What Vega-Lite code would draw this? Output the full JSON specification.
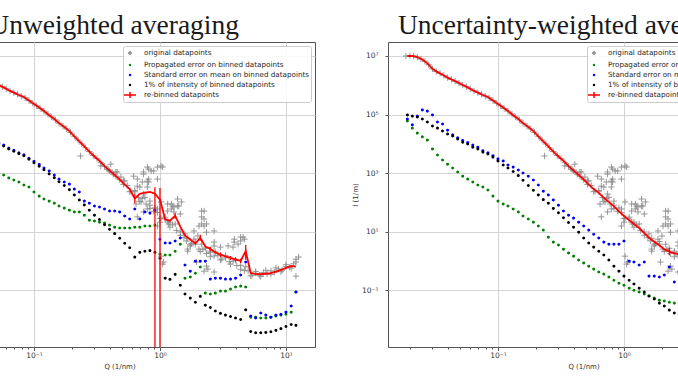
{
"$schema": "https://vega.github.io/schema/vega-lite/v6.json",
"background": "white",
"padding": {"left": -77, "top": 11, "right": -100, "bottom": 4},
"config": {
 "view": {"stroke": "#555555", "strokeWidth": 1},
 "axis": {"labelFont": "DejaVu Sans", "labelFontSize": 7.5, "labelColor": "#333333", "titleFont": "DejaVu Sans", "titleFontSize": 7, "titleFontWeight": "normal", "titleColor": "#333333", "gridColor": "#d4d4d4", "gridWidth": 1, "tickColor": "#555555", "domain": false, "labelOverlap": false, "labelFlush": false},
 "title": {"font": "Liberation Serif", "fontSize": 27.5, "fontWeight": "normal", "color": "#1a1a1a", "offset": 3, "frame": "group"},
 "legend": {"title": null, "orient": "top-right", "offset": 4, "symbolSize": 100, "rowPadding": 0, "padding": 1, "labelOffset": 8, "labelFont": "DejaVu Sans", "labelFontSize": 7.2, "labelColor": "#262626", "labelLimit": 400, "strokeColor": "#cccccc", "fillColor": "rgba(255,255,255,0.85)", "cornerRadius": 2}
},
"datasets": {
 "orig": [
  {"Q":1.86e-2,"orig":1.00e7},{"Q":2.00e-2,"orig":1.02e7},{"Q":2.14e-2,"orig":1.00e7},{"Q":2.29e-2,"orig":9.12e6},{"Q":2.45e-2,"orig":7.94e6},{"Q":2.63e-2,"orig":6.61e6},{"Q":2.82e-2,"orig":5.01e6},{"Q":3.02e-2,"orig":3.63e6},{"Q":3.24e-2,"orig":2.95e6},{"Q":3.47e-2,"orig":2.57e6},{"Q":3.72e-2,"orig":2.19e6},{"Q":3.98e-2,"orig":1.82e6},{"Q":4.27e-2,"orig":1.58e6},{"Q":4.57e-2,"orig":1.38e6},{"Q":4.90e-2,"orig":1.20e6},{"Q":5.25e-2,"orig":1.02e6},{"Q":5.62e-2,"orig":8.91e5},{"Q":6.03e-2,"orig":7.59e5},{"Q":6.46e-2,"orig":6.46e5},{"Q":6.92e-2,"orig":5.62e5},{"Q":7.41e-2,"orig":4.90e5},{"Q":7.94e-2,"orig":4.27e5},{"Q":8.51e-2,"orig":3.72e5},{"Q":9.12e-2,"orig":3.02e5},{"Q":9.77e-2,"orig":2.45e5},{"Q":0.105,"orig":2.00e5},{"Q":0.112,"orig":1.62e5},{"Q":0.120,"orig":1.32e5},{"Q":0.129,"orig":1.05e5},{"Q":0.138,"orig":8.32e4},{"Q":0.148,"orig":6.61e4},{"Q":0.158,"orig":5.13e4},{"Q":0.170,"orig":4.07e4},{"Q":0.182,"orig":3.24e4},{"Q":0.195,"orig":2.51e4},{"Q":0.209,"orig":1.82e4},{"Q":0.224,"orig":1.35e4},{"Q":0.240,"orig":1.00e4},{"Q":0.257,"orig":7.41e3},{"Q":0.275,"orig":5.50e3},{"Q":0.295,"orig":4.07e3},{"Q":0.316,"orig":3.16e3},{"Q":0.339,"orig":2.34e3},{"Q":0.363,"orig":1.74e3},{"Q":0.389,"orig":1.35e3},{"Q":0.417,"orig":1.05e3},{"Q":0.447,"orig":794},{"Q":0.479,"orig":603},{"Q":0.513,"orig":417},{"Q":0.550,"orig":380},{"Q":0.589,"orig":245},{"Q":0.631,"orig":234},{"Q":0.676,"orig":148},{"Q":0.724,"orig":138},{"Q":0.776,"orig":89.1},{"Q":0.832,"orig":81.3},{"Q":0.891,"orig":50.1},{"Q":0.955,"orig":45.7},{"Q":1.02,"orig":29.5},{"Q":1.10,"orig":27.5},{"Q":1.17,"orig":18.6},{"Q":1.26,"orig":17.4},{"Q":1.35,"orig":11.2},{"Q":1.45,"orig":10.0},{"Q":1.55,"orig":6.31},{"Q":1.66,"orig":6.03},{"Q":1.78,"orig":3.98},{"Q":1.91,"orig":3.80},{"Q":2.04,"orig":2.57},{"Q":2.19,"orig":2.51},{"Q":2.34,"orig":1.82},{"Q":2.51,"orig":1.95},{"Q":2.69,"orig":1.51},{"Q":2.88,"orig":1.58},{"Q":3.09,"orig":1.17},{"Q":3.31,"orig":1.29},{"Q":3.55,"orig":0.955},{"Q":3.80,"orig":1.00},{"Q":4.07,"orig":0.708},{"Q":4.37,"orig":0.724},{"Q":4.68,"orig":0.479},{"Q":5.01,"orig":0.468},{"Q":5.37,"orig":0.331},{"Q":5.75,"orig":0.389},{"Q":6.17,"orig":0.331},{"Q":6.61,"orig":0.407},{"Q":7.08,"orig":0.363},{"Q":7.59,"orig":0.468},{"Q":8.13,"orig":0.417},{"Q":8.71,"orig":0.537},{"Q":9.33,"orig":0.490},{"Q":10.0,"orig":0.661},{"Q":10.7,"orig":0.617},{"Q":11.5,"orig":0.813},
  {"Q":0.525,"orig":550},{"Q":0.575,"orig":234},{"Q":0.631,"orig":257},{"Q":0.692,"orig":110},{"Q":0.759,"orig":151},{"Q":0.832,"orig":63.1},{"Q":0.912,"orig":66.1},{"Q":1.00,"orig":28.2},{"Q":1.10,"orig":31.6},{"Q":1.20,"orig":14.5},{"Q":1.32,"orig":18.6},{"Q":1.45,"orig":7.59},{"Q":1.58,"orig":8.51},{"Q":1.74,"orig":3.63},{"Q":1.91,"orig":4.68},{"Q":2.09,"orig":2.14},{"Q":2.29,"orig":2.75},{"Q":2.51,"orig":1.41},{"Q":2.75,"orig":2.09},{"Q":3.02,"orig":1.10},{"Q":3.31,"orig":1.58},{"Q":3.63,"orig":0.794},{"Q":3.98,"orig":1.07},{"Q":4.37,"orig":0.525},{"Q":4.79,"orig":0.646},{"Q":5.25,"orig":0.316},{"Q":5.75,"orig":0.447},{"Q":6.31,"orig":0.302},{"Q":6.92,"orig":0.490},{"Q":7.59,"orig":0.355},{"Q":8.32,"orig":0.589},{"Q":9.12,"orig":0.437},{"Q":10.0,"orig":0.759},{"Q":11.0,"orig":0.575},{"Q":12.0,"orig":0.933},
  {"Q":0.234,"orig":3.89e3},{"Q":0.339,"orig":1.78e3},{"Q":0.380,"orig":1.38e3},{"Q":0.407,"orig":2.04e3},{"Q":0.398,"orig":1.20e3},{"Q":0.427,"orig":933},{"Q":0.447,"orig":1.10e3},{"Q":0.457,"orig":1.10e3},{"Q":0.490,"orig":741},{"Q":0.513,"orig":537},{"Q":0.617,"orig":794},{"Q":0.661,"orig":631},{"Q":0.661,"orig":363},{"Q":0.692,"orig":339},{"Q":0.724,"orig":501},{"Q":0.741,"orig":933},{"Q":0.741,"orig":1.10e3},{"Q":0.741,"orig":195},{"Q":0.794,"orig":1.62e3},{"Q":0.794,"orig":339},{"Q":0.794,"orig":537},{"Q":0.813,"orig":1.38e3},{"Q":0.813,"orig":631},{"Q":0.813,"orig":501},{"Q":0.851,"orig":1.20e3},{"Q":0.891,"orig":1.20e3},{"Q":0.955,"orig":1.62e3},{"Q":1.02,"orig":1.78e3},{"Q":1.05,"orig":1.62e3},{"Q":0.955,"orig":631},{"Q":0.646,"orig":89.1},{"Q":0.708,"orig":105},{"Q":0.741,"orig":47.9},{"Q":0.794,"orig":60.3},{"Q":0.955,"orig":60.3},{"Q":1.02,"orig":105},{"Q":1.15,"orig":51.3},{"Q":1.23,"orig":89.1},{"Q":1.23,"orig":60.3},{"Q":1.29,"orig":70.8},{"Q":1.38,"orig":132},{"Q":1.41,"orig":75.9},{"Q":1.48,"orig":105},{"Q":1.15,"orig":89.1},{"Q":1.26,"orig":75.9},{"Q":1.38,"orig":75.9},{"Q":1.29,"orig":47.9},{"Q":1.45,"orig":40.7},{"Q":1.00,"orig":21.4},{"Q":1.20,"orig":21.4},{"Q":1.15,"orig":21.4},{"Q":0.955,"orig":15.8},{"Q":0.832,"orig":112},{"Q":0.661,"orig":32.4},{"Q":2.14,"orig":51.3},{"Q":2.14,"orig":18.6},{"Q":2.24,"orig":27.5},{"Q":2.24,"orig":51.3},{"Q":2.14,"orig":32.4},{"Q":2.04,"orig":15.8},{"Q":2.34,"orig":18.6},{"Q":2.24,"orig":15.8},{"Q":2.34,"orig":9.77},{"Q":2.69,"orig":10.7},{"Q":2.69,"orig":4.47},{"Q":1.86,"orig":10.7},{"Q":1.86,"orig":5.62},{"Q":1.62,"orig":4.90},{"Q":1.74,"orig":3.31},{"Q":1.66,"orig":2.57},{"Q":1.66,"orig":2.19},{"Q":2.00,"orig":7.24},{"Q":2.14,"orig":3.80},{"Q":2.69,"orig":3.31},{"Q":3.47,"orig":3.31},{"Q":3.02,"orig":3.02},{"Q":3.80,"orig":3.02},{"Q":4.17,"orig":3.80},{"Q":3.89,"orig":5.62},{"Q":4.37,"orig":6.61},{"Q":4.37,"orig":4.90},{"Q":4.57,"orig":6.61},{"Q":4.68,"orig":5.62},{"Q":3.89,"orig":4.47},{"Q":1.02,"orig":1.48},{"Q":1.05,"orig":0.794},{"Q":1.07,"orig":0.933},{"Q":2.34,"orig":0.676},{"Q":2.24,"orig":0.457},{"Q":2.40,"orig":0.537},{"Q":2.69,"orig":0.427},{"Q":1.95,"orig":0.933},{"Q":2.51,"orig":2.19},{"Q":12.0,"orig":1.17},{"Q":12.0,"orig":0.309},{"Q":12.6,"orig":1.38}
 ],
 "unw": [
  {"Q":5.25e-2,"rebin":1.02e6,"prop":1.00e3,"sem":1.10e4,"pct":1.02e4},
  {"Q":5.75e-2,"rebin":8.51e5,"prop":871,"sem":9.12e3,"pct":8.51e3},
  {"Q":6.31e-2,"rebin":6.76e5,"prop":692,"sem":7.24e3,"pct":6.76e3},
  {"Q":6.92e-2,"rebin":5.62e5,"prop":589,"sem":6.03e3,"pct":5.62e3},
  {"Q":7.59e-2,"rebin":4.68e5,"prop":501,"sem":5.01e3,"pct":4.68e3},
  {"Q":8.32e-2,"rebin":3.98e5,"prop":398,"sem":4.27e3,"pct":3.98e3},
  {"Q":9.12e-2,"rebin":3.02e5,"prop":339,"sem":3.24e3,"pct":3.02e3},
  {"Q":0.100,"rebin":2.29e5,"prop":229,"sem":2.57e3,"pct":2.29e3},
  {"Q":0.110,"rebin":1.74e5,"prop":166,"sem":2.00e3,"pct":1.74e3},
  {"Q":0.120,"rebin":1.32e5,"prop":132,"sem":1.51e3,"pct":1.32e3},
  {"Q":0.132,"rebin":9.55e4,"prop":112,"sem":1.20e3,"pct":955},
  {"Q":0.145,"rebin":7.08e4,"prop":95.5,"sem":871,"pct":708},
  {"Q":0.158,"rebin":5.13e4,"prop":75.9,"sem":631,"pct":513},
  {"Q":0.174,"rebin":3.80e4,"prop":64.6,"sem":501,"pct":380},
  {"Q":0.191,"rebin":2.75e4,"prop":55.0,"sem":427,"pct":275},
  {"Q":0.209,"rebin":1.82e4,"prop":47.9,"sem":288,"pct":182},
  {"Q":0.229,"rebin":1.23e4,"prop":47.9,"sem":229,"pct":123},
  {"Q":0.251,"rebin":8.32e3,"prop":37.2,"sem":112,"pct":83.2},
  {"Q":0.275,"rebin":5.50e3,"prop":25.1,"sem":95.5,"pct":55.0},
  {"Q":0.302,"rebin":3.72e3,"prop":23.4,"sem":75.9,"pct":37.2},
  {"Q":0.331,"rebin":2.63e3,"prop":21.4,"sem":70.8,"pct":26.3},
  {"Q":0.363,"rebin":1.74e3,"prop":20.0,"sem":60.3,"pct":17.4},
  {"Q":0.398,"rebin":1.23e3,"prop":17.0,"sem":51.3,"pct":12.3},
  {"Q":0.437,"rebin":871,"prop":14.5,"sem":51.3,"pct":8.71},
  {"Q":0.479,"rebin":603,"prop":13.5,"sem":47.9,"pct":6.03},
  {"Q":0.525,"rebin":407,"prop":13.5,"sem":34.7,"pct":4.07},
  {"Q":0.575,"rebin":288,"prop":13.5,"sem":27.5,"pct":2.88},
  {"Q":0.631,"rebin":138,"prop":14.5,"sem":60.3,"pct":1.38,"lo":95.5,"hi":191},
  {"Q":0.692,"rebin":200,"prop":14.5,"sem":27.5,"pct":2.00},
  {"Q":0.759,"rebin":219,"prop":15.8,"sem":47.9,"pct":2.19},
  {"Q":0.832,"rebin":229,"prop":15.8,"sem":43.7,"pct":2.29},
  {"Q":0.912,"rebin":200,"prop":17.0,"sem":55.0,"pct":2.00,"lo":1e-6,"hi":331},
  {"Q":1.00,"rebin":126,"prop":1.74,"sem":5.62,"pct":1.26,"lo":1e-6,"hi":316},
  {"Q":1.10,"rebin":26.3,"prop":1.62,"sem":4.17,"pct":0.263},
  {"Q":1.20,"rebin":24.0,"prop":1.62,"sem":4.17,"pct":0.240},
  {"Q":1.32,"rebin":35.5,"prop":2.19,"sem":4.90,"pct":0.355,"lo":28.2,"hi":44.7},
  {"Q":1.45,"rebin":15.1,"prop":3.80,"sem":6.17,"pct":0.151},
  {"Q":1.58,"rebin":7.59,"prop":0.263,"sem":0.741,"pct":7.59e-2},
  {"Q":1.74,"rebin":5.50,"prop":0.288,"sem":0.457,"pct":5.50e-2},
  {"Q":1.91,"rebin":3.98,"prop":0.389,"sem":1.00,"pct":3.98e-2},
  {"Q":2.09,"rebin":6.31,"prop":0.631,"sem":1.00,"pct":6.31e-2,"lo":5.01,"hi":7.94},
  {"Q":2.29,"rebin":3.16,"prop":8.13e-2,"sem":1.00,"pct":3.16e-2},
  {"Q":2.51,"rebin":2.63,"prop":7.59e-2,"sem":0.245,"pct":2.63e-2,"lo":2.24,"hi":3.09},
  {"Q":2.75,"rebin":2.00,"prop":8.13e-2,"sem":0.263,"pct":2.00e-2},
  {"Q":3.02,"rebin":1.66,"prop":9.55e-2,"sem":0.263,"pct":1.66e-2,"lo":1.38,"hi":2.00},
  {"Q":3.31,"rebin":1.45,"prop":9.55e-2,"sem":0.245,"pct":1.45e-2},
  {"Q":3.63,"rebin":1.29,"prop":0.112,"sem":0.245,"pct":1.29e-2,"lo":1.10,"hi":1.51},
  {"Q":3.98,"rebin":1.15,"prop":0.132,"sem":0.263,"pct":1.15e-2,"lo":0.977,"hi":1.35},
  {"Q":4.37,"rebin":1.02,"prop":0.141,"sem":0.339,"pct":1.02e-2,"lo":0.871,"hi":1.20},
  {"Q":4.79,"rebin":2.19,"prop":0.132,"sem":0.933,"pct":2.19e-2,"lo":1.12,"hi":3.55},
  {"Q":5.25,"rebin":0.398,"prop":1.23e-2,"sem":1.35e-2,"pct":3.98e-3},
  {"Q":5.75,"rebin":0.363,"prop":1.23e-2,"sem":1.15e-2,"pct":3.63e-3},
  {"Q":6.31,"rebin":0.363,"prop":1.15e-2,"sem":1.70e-2,"pct":3.63e-3},
  {"Q":6.92,"rebin":0.372,"prop":1.15e-2,"sem":1.45e-2,"pct":3.72e-3},
  {"Q":7.59,"rebin":0.389,"prop":1.23e-2,"sem":1.23e-2,"pct":3.89e-3},
  {"Q":8.32,"rebin":0.437,"prop":1.35e-2,"sem":1.45e-2,"pct":4.37e-3},
  {"Q":9.12,"rebin":0.501,"prop":1.45e-2,"sem":1.55e-2,"pct":5.01e-3},
  {"Q":10.0,"rebin":0.589,"prop":1.55e-2,"sem":1.82e-2,"pct":5.89e-3},
  {"Q":11.0,"rebin":0.692,"prop":1.82e-2,"sem":2.95e-2,"pct":6.92e-3},
  {"Q":12.0,"rebin":0.646,"prop":8.91e-2,"sem":8.91e-2,"pct":6.46e-3}
 ],
 "wtd": [
  {"Q":1.91e-2,"rebin":1.00e7,"prop":6.03e4,"sem":7.08e4,"pct":9.77e4},
  {"Q":2.09e-2,"rebin":1.00e7,"prop":3.47e4,"sem":4.47e4,"pct":8.91e4},
  {"Q":2.29e-2,"rebin":9.12e6,"prop":2.34e4,"sem":8.91e4,"pct":8.32e4},
  {"Q":2.51e-2,"rebin":7.59e6,"prop":1.74e4,"sem":1.45e5,"pct":7.08e4},
  {"Q":2.75e-2,"rebin":5.62e6,"prop":1.35e4,"sem":1.32e5,"pct":5.62e4},
  {"Q":3.02e-2,"rebin":3.63e6,"prop":6.76e3,"sem":9.77e4,"pct":4.07e4},
  {"Q":3.31e-2,"rebin":2.82e6,"prop":4.17e3,"sem":5.62e4,"pct":3.47e4},
  {"Q":3.63e-2,"rebin":2.29e6,"prop":2.82e3,"sem":4.79e4,"pct":2.75e4},
  {"Q":3.98e-2,"rebin":1.82e6,"prop":2.04e3,"sem":2.95e4,"pct":2.19e4},
  {"Q":4.37e-2,"rebin":1.51e6,"prop":1.51e3,"sem":2.04e4,"pct":1.86e4},
  {"Q":4.79e-2,"rebin":1.26e6,"prop":1.10e3,"sem":1.62e4,"pct":1.48e4},
  {"Q":5.25e-2,"rebin":1.02e6,"prop":794,"sem":1.32e4,"pct":1.15e4},
  {"Q":5.75e-2,"rebin":8.51e5,"prop":631,"sem":1.12e4,"pct":1.00e4},
  {"Q":6.31e-2,"rebin":6.76e5,"prop":501,"sem":9.12e3,"pct":7.76e3},
  {"Q":6.92e-2,"rebin":5.62e5,"prop":398,"sem":7.76e3,"pct":6.76e3},
  {"Q":7.59e-2,"rebin":4.68e5,"prop":339,"sem":5.89e3,"pct":5.25e3},
  {"Q":8.32e-2,"rebin":3.98e5,"prop":269,"sem":5.01e3,"pct":4.57e3},
  {"Q":9.12e-2,"rebin":3.02e5,"prop":166,"sem":3.98e3,"pct":3.55e3},
  {"Q":0.100,"rebin":2.29e5,"prop":112,"sem":3.09e3,"pct":2.63e3},
  {"Q":0.110,"rebin":1.74e5,"prop":89.1,"sem":2.63e3,"pct":1.91e3},
  {"Q":0.120,"rebin":1.32e5,"prop":75.9,"sem":1.91e3,"pct":1.51e3},
  {"Q":0.132,"rebin":9.55e4,"prop":60.3,"sem":1.62e3,"pct":1.15e3},
  {"Q":0.145,"rebin":7.08e4,"prop":47.9,"sem":1.29e3,"pct":832},
  {"Q":0.158,"rebin":5.13e4,"prop":34.7,"sem":1.02e3,"pct":575},
  {"Q":0.174,"rebin":3.80e4,"prop":27.5,"sem":794,"pct":380},
  {"Q":0.191,"rebin":2.75e4,"prop":21.4,"sem":589,"pct":263},
  {"Q":0.209,"rebin":1.82e4,"prop":15.8,"sem":398,"pct":182},
  {"Q":0.229,"rebin":1.23e4,"prop":11.5,"sem":245,"pct":126},
  {"Q":0.251,"rebin":8.32e3,"prop":6.61,"sem":182,"pct":95.5},
  {"Q":0.275,"rebin":5.50e3,"prop":4.47,"sem":123,"pct":63.1},
  {"Q":0.302,"rebin":3.72e3,"prop":3.55,"sem":81.3,"pct":44.7},
  {"Q":0.331,"rebin":2.63e3,"prop":2.57,"sem":51.3,"pct":30.2},
  {"Q":0.363,"rebin":1.74e3,"prop":1.91,"sem":37.2,"pct":20.9},
  {"Q":0.398,"rebin":1.23e3,"prop":1.48,"sem":29.5,"pct":14.5},
  {"Q":0.437,"rebin":871,"prop":1.10,"sem":21.4,"pct":9.77},
  {"Q":0.479,"rebin":603,"prop":0.871,"sem":15.8,"pct":6.17},
  {"Q":0.525,"rebin":407,"prop":0.676,"sem":11.5,"pct":4.17},
  {"Q":0.575,"rebin":288,"prop":0.537,"sem":8.32,"pct":3.02},
  {"Q":0.631,"rebin":214,"prop":0.427,"sem":6.17,"pct":2.19},
  {"Q":0.692,"rebin":145,"prop":0.363,"sem":4.47,"pct":1.62},
  {"Q":0.759,"rebin":105,"prop":0.288,"sem":3.80,"pct":1.10},
  {"Q":0.832,"rebin":74.1,"prop":0.224,"sem":3.80,"pct":0.676},
  {"Q":0.912,"rebin":50.1,"prop":0.178,"sem":3.80,"pct":0.457},
  {"Q":1.00,"rebin":34.7,"prop":0.151,"sem":4.90,"pct":0.309},
  {"Q":1.10,"rebin":25.1,"prop":0.120,"sem":1.00,"pct":0.224},
  {"Q":1.20,"rebin":18.6,"prop":0.102,"sem":0.933,"pct":0.166},
  {"Q":1.32,"rebin":13.5,"prop":8.91e-2,"sem":0.741,"pct":0.120},
  {"Q":1.45,"rebin":9.12,"prop":7.59e-2,"sem":0.933,"pct":8.91e-2},
  {"Q":1.58,"rebin":6.31,"prop":6.46e-2,"sem":0.309,"pct":6.46e-2},
  {"Q":1.74,"rebin":4.57,"prop":5.50e-2,"sem":0.309,"pct":5.13e-2},
  {"Q":1.91,"rebin":3.47,"prop":4.68e-2,"sem":0.288,"pct":3.72e-2},
  {"Q":2.09,"rebin":2.51,"prop":4.37e-2,"sem":0.339,"pct":2.95e-2},
  {"Q":2.29,"rebin":2.14,"prop":3.98e-2,"sem":0.631,"pct":2.14e-2,"lo":1.58,"hi":2.88},
  {"Q":2.51,"rebin":1.86,"prop":3.72e-2,"sem":0.195,"pct":1.70e-2},
  {"Q":2.75,"rebin":1.70,"prop":3.72e-2,"sem":0.457,"pct":1.55e-2,"lo":1.35,"hi":2.14}
 ]
},
"spacing": 34,
"resolve": {"scale": {"color": "independent", "shape": "independent"}, "legend": {"color": "independent", "shape": "independent"}},
"hconcat": [
 {
  "width": 391, "height": 305,
  "title": {"text": "Unweighted averaging", "anchor": "end", "dx": -76},
  "encoding": {"x": {"field": "Q", "type": "quantitative", "scale": {"type": "log", "domain": [0.0134, 17.0], "nice": false},
    "axis": {"title": "Q (1/nm)", "values": [0.02,0.03,0.04,0.05,0.06,0.07,0.08,0.09,0.1,0.2,0.3,0.4,0.5,0.6,0.7,0.8,0.9,1,2,3,4,5,6,7,8,9,10],
      "labelExpr": "datum.value == 0.1 ? '10⁻¹' : datum.value == 1 ? '10⁰' : datum.value == 10 ? '10¹' : ''",
      "gridOpacity": {"condition": {"test": "datum.value == 0.1 || datum.value == 1 || datum.value == 10", "value": 1}, "value": 0},
      "tickSize": {"condition": {"test": "datum.value == 0.1 || datum.value == 1 || datum.value == 10", "value": 3.5}, "value": 2},
      "labelPadding": 1, "titlePadding": 3}}},
  "layer": [
   {"data": {"name": "orig"}, "transform": [{"fold": ["orig"], "as": ["key", "val"]}],
    "mark": {"type": "point", "filled": false, "size": 225, "strokeWidth": 0.9, "opacity": 1, "clip": true},
    "encoding": {
     "y": {"field": "val", "type": "quantitative", "scale": {"type": "log", "domain": [0.00118, 3.0e7], "nice": false},
       "axis": {"title": null, "labels": false, "ticks": false, "values": [0.1, 10, 1000, 100000, 10000000]}},
     "color": {"field": "key", "type": "nominal", "scale": {"domain": ["orig","prop","sem","pct","rebin"], "range": ["#8c8c8c","#008000","#0000ff","#000000","#ff0000"]},
       "legend": {"labelExpr": "datum.label == 'orig' ? 'original datapoints' : datum.label == 'prop' ? 'Propagated error on binned datapoints' : datum.label == 'sem' ? 'Standard error on mean on binned datapoints' : datum.label == 'pct' ? '1% of intensity of binned datapoints' : 're-binned datapoints'",
         "encode": {"symbols": {"update": {"size": {"value": 160}, "strokeWidth": {"signal": "datum.value == 'rebin' ? 2 : datum.value == 'orig' ? 0.9 : 1.5"}}}}}},
     "shape": {"field": "key", "type": "nominal", "scale": {"domain": ["orig","prop","sem","pct","rebin"], "range": ["M-0.42,0H0.42M0,-0.42V0.42","M-0.1,0A0.1,0.1 0 1,0 0.1,0A0.1,0.1 0 1,0 -0.1,0","M-0.1,0A0.1,0.1 0 1,0 0.1,0A0.1,0.1 0 1,0 -0.1,0","M-0.1,0A0.1,0.1 0 1,0 0.1,0A0.1,0.1 0 1,0 -0.1,0","M-1.2,0H1.2M0,-0.6V0.6"]},
       "legend": {"labelExpr": "datum.label == 'orig' ? 'original datapoints' : datum.label == 'prop' ? 'Propagated error on binned datapoints' : datum.label == 'sem' ? 'Standard error on mean on binned datapoints' : datum.label == 'pct' ? '1% of intensity of binned datapoints' : 're-binned datapoints'",
         "encode": {"symbols": {"update": {"size": {"value": 160}, "strokeWidth": {"signal": "datum.value == 'rebin' ? 2 : datum.value == 'orig' ? 0.9 : 1.5"}}}}}}
    }},
   {"data": {"name": "unw"}, "transform": [{"fold": ["prop", "sem", "pct"], "as": ["key", "val"]}],
    "mark": {"type": "point", "filled": false, "size": 225, "strokeWidth": 1.5, "opacity": 1, "clip": true},
    "encoding": {"y": {"field": "val", "type": "quantitative"}, "color": {"field": "key", "type": "nominal"}, "shape": {"field": "key", "type": "nominal"}}},
   {"data": {"name": "unw"}, "mark": {"type": "line", "color": "#ff0000", "strokeWidth": 1.8, "clip": true},
    "encoding": {"y": {"field": "rebin", "type": "quantitative"}}},
   {"data": {"name": "unw"}, "transform": [{"filter": "isValid(datum.lo)"}], "mark": {"type": "rule", "color": "#ff0000", "strokeWidth": 1.3, "clip": true},
    "encoding": {"y": {"field": "lo", "type": "quantitative"}, "y2": {"field": "hi"}}}
  ]
 },
 {
  "width": 391, "height": 305,
  "title": {"text": "Uncertainty-weighted averaging", "anchor": "start", "dx": 10},
  "encoding": {"x": {"field": "Q", "type": "quantitative", "scale": {"type": "log", "domain": [0.0134, 17.0], "nice": false},
    "axis": {"title": "Q (1/nm)", "values": [0.02,0.03,0.04,0.05,0.06,0.07,0.08,0.09,0.1,0.2,0.3,0.4,0.5,0.6,0.7,0.8,0.9,1,2,3,4,5,6,7,8,9,10],
      "labelExpr": "datum.value == 0.1 ? '10⁻¹' : datum.value == 1 ? '10⁰' : datum.value == 10 ? '10¹' : ''",
      "gridOpacity": {"condition": {"test": "datum.value == 0.1 || datum.value == 1 || datum.value == 10", "value": 1}, "value": 0},
      "tickSize": {"condition": {"test": "datum.value == 0.1 || datum.value == 1 || datum.value == 10", "value": 3.5}, "value": 2},
      "labelPadding": 1, "titlePadding": 3}}},
  "layer": [
   {"data": {"name": "orig"}, "transform": [{"fold": ["orig"], "as": ["key", "val"]}],
    "mark": {"type": "point", "filled": false, "size": 225, "strokeWidth": 0.9, "opacity": 1, "clip": true},
    "encoding": {
     "y": {"field": "val", "type": "quantitative", "scale": {"type": "log", "domain": [0.00118, 3.0e7], "nice": false},
       "axis": {"title": "I (1/m)", "values": [0.1, 10, 1000, 100000, 10000000], "labelExpr": "'10' + (datum.value < 1 ? '⁻¹' : datum.value < 100 ? '¹' : datum.value < 10000 ? '³' : datum.value < 1000000 ? '⁵' : '⁷')", "tickSize": 3, "labelPadding": 7, "titlePadding": 3}},
     "color": {"field": "key", "type": "nominal", "scale": {"domain": ["orig","prop","sem","pct","rebin"], "range": ["#8c8c8c","#008000","#0000ff","#000000","#ff0000"]},
       "legend": {"labelExpr": "datum.label == 'orig' ? 'original datapoints' : datum.label == 'prop' ? 'Propagated error on binned datapoints' : datum.label == 'sem' ? 'Standard error on mean on binned datapoints' : datum.label == 'pct' ? '1% of intensity of binned datapoints' : 're-binned datapoints'",
         "encode": {"symbols": {"update": {"size": {"value": 160}, "strokeWidth": {"signal": "datum.value == 'rebin' ? 2 : datum.value == 'orig' ? 0.9 : 1.5"}}}}}},
     "shape": {"field": "key", "type": "nominal", "scale": {"domain": ["orig","prop","sem","pct","rebin"], "range": ["M-0.42,0H0.42M0,-0.42V0.42","M-0.1,0A0.1,0.1 0 1,0 0.1,0A0.1,0.1 0 1,0 -0.1,0","M-0.1,0A0.1,0.1 0 1,0 0.1,0A0.1,0.1 0 1,0 -0.1,0","M-0.1,0A0.1,0.1 0 1,0 0.1,0A0.1,0.1 0 1,0 -0.1,0","M-1.2,0H1.2M0,-0.6V0.6"]},
       "legend": {"labelExpr": "datum.label == 'orig' ? 'original datapoints' : datum.label == 'prop' ? 'Propagated error on binned datapoints' : datum.label == 'sem' ? 'Standard error on mean on binned datapoints' : datum.label == 'pct' ? '1% of intensity of binned datapoints' : 're-binned datapoints'",
         "encode": {"symbols": {"update": {"size": {"value": 160}, "strokeWidth": {"signal": "datum.value == 'rebin' ? 2 : datum.value == 'orig' ? 0.9 : 1.5"}}}}}}
    }},
   {"data": {"name": "wtd"}, "transform": [{"fold": ["prop", "sem", "pct"], "as": ["key", "val"]}],
    "mark": {"type": "point", "filled": false, "size": 225, "strokeWidth": 1.5, "opacity": 1, "clip": true},
    "encoding": {"y": {"field": "val", "type": "quantitative"}, "color": {"field": "key", "type": "nominal"}, "shape": {"field": "key", "type": "nominal"}}},
   {"data": {"name": "wtd"}, "mark": {"type": "line", "color": "#ff0000", "strokeWidth": 1.8, "clip": true},
    "encoding": {"y": {"field": "rebin", "type": "quantitative"}}},
   {"data": {"name": "wtd"}, "transform": [{"filter": "isValid(datum.lo)"}], "mark": {"type": "rule", "color": "#ff0000", "strokeWidth": 1.3, "clip": true},
    "encoding": {"y": {"field": "lo", "type": "quantitative"}, "y2": {"field": "hi"}}}
  ]
 }
]
}
